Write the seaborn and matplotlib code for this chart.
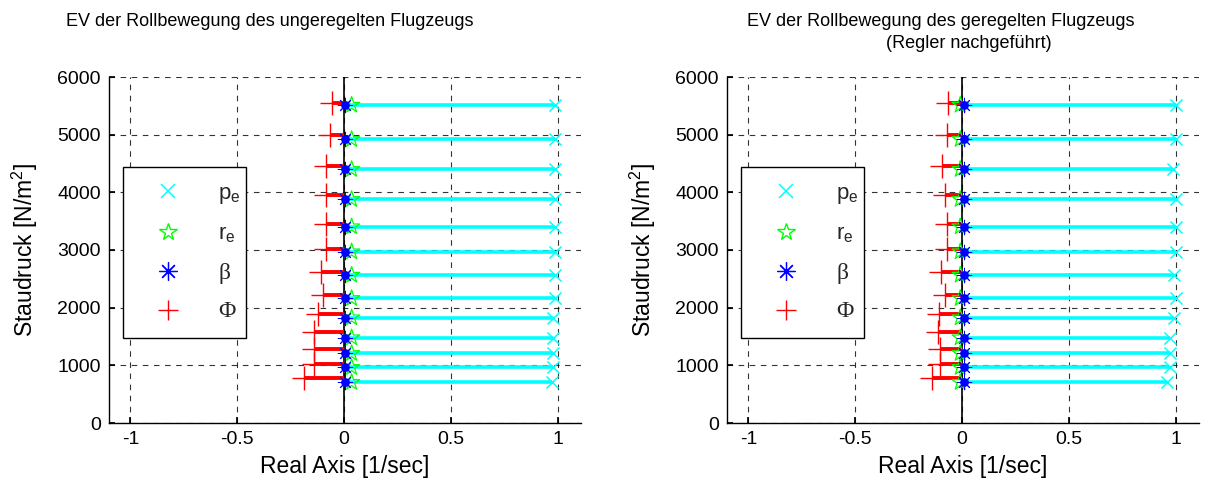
import numpy as np
import pandas as pd
import seaborn as sns
import matplotlib
matplotlib.use("Agg")
import matplotlib.pyplot as plt
from matplotlib.lines import Line2D

sns.set_theme(style="white")
plt.rcParams['font.family'] = ['Liberation Sans', 'DejaVu Sans']
plt.rcParams['mathtext.fontset'] = 'custom'
plt.rcParams['mathtext.rm'] = 'Liberation Sans'
plt.rcParams['mathtext.it'] = 'Liberation Sans:italic'
plt.rcParams['axes.unicode_minus'] = False

# ---- data ----
staudruck = [5514, 4919, 4399, 3879, 3405, 2971, 2566, 2162, 1827, 1480, 1208, 965, 706]
staudruck_phi = [5554, 4994, 4457, 3954, 3451, 3012, 2624, 2220, 1885, 1573, 1278, 1023, 786]

# uncontrolled aircraft
p_e_u = [0.99, 0.99, 0.99, 0.99, 0.99, 0.99, 0.99, 0.99, 0.98, 0.98, 0.98, 0.98, 0.975]
r_e_u = [0.036] * 13
beta_u = [0.005] * 13
phi_u = [-0.055, -0.066, -0.082, -0.082, -0.082, -0.082, -0.107, -0.097, -0.121, -0.140, -0.140, -0.140, -0.189]

# controlled aircraft
p_e_c = [1.0, 1.0, 0.99, 1.0, 1.0, 1.0, 0.995, 1.0, 0.995, 0.975, 0.975, 0.975, 0.96]
r_e_c = [-0.008] * 13
beta_c = [0.01] * 13
phi_c = [-0.064, -0.072, -0.091, -0.080, -0.072, -0.072, -0.096, -0.080, -0.107, -0.114, -0.103, -0.103, -0.138]

titles_left = ["EV der Rollbewegung des ungeregelten Flugzeugs"]
titles_right = ["EV der Rollbewegung des geregelten Flugzeugs", "(Regler nachgeführt)"]
xticks = [-1, -0.5, 0, 0.5, 1]
xticklabels = ["-1", "-0.5", "0", "0.5", "1"]
yticks = [0, 1000, 2000, 3000, 4000, 5000, 6000]
legend_labels = [r"$\mathregular{p_e}$", r"$\mathregular{r_e}$", "β", "Φ"]

FS = 14
FS_LABEL = 16.5
FS_TITLE = 13
W, H = 1212, 486
fig = plt.figure(figsize=(W / 100, H / 100), dpi=100)
ax1 = fig.add_axes([109 / W, 63 / H, 472 / W, 346 / H])
ax2 = fig.add_axes([727 / W, 63 / H, 472 / W, 346 / H])

CYAN = "#00ffff"
GREEN = "#00ff00"
BLUE = "#0000ff"
RED = "#ff0000"


def draw(ax, pe, re, beta, phi):
    q = np.array(staudruck)
    qp = np.array(staudruck_phi)
    ax.axvline(0, color="black", lw=1.2, zorder=2)
    ax.hlines(q, 0, pe, color=CYAN, lw=2.6, zorder=3)
    ax.hlines(qp, phi, 0, color=RED, lw=2.8, zorder=3)
    df_pe = pd.DataFrame({"x": pe, "y": q})
    df_re = pd.DataFrame({"x": re, "y": q})
    df_b = pd.DataFrame({"x": beta, "y": q})
    df_phi = pd.DataFrame({"x": phi, "y": qp})
    sns.scatterplot(data=df_pe, x="x", y="y", ax=ax, marker="x", s=75,
                    color=CYAN, linewidth=1.1, zorder=4)
    sns.scatterplot(data=df_phi, x="x", y="y", ax=ax, marker="+", s=300,
                    color=RED, linewidth=1.0, zorder=4)
    sns.scatterplot(data=df_re, x="x", y="y", ax=ax, marker="*", s=150,
                    facecolor="none", edgecolor=GREEN, linewidth=0.9, zorder=5)
    sns.scatterplot(data=df_b, x="x", y="y", ax=ax, marker="o", s=40,
                    color=BLUE, linewidth=0, zorder=6)
    sns.scatterplot(data=df_b, x="x", y="y", ax=ax, marker=(8, 2, 0), s=110,
                    color=BLUE, linewidth=0.7, zorder=6)
    ax.set_xlim(-1.1, 1.11)
    ax.set_ylim(0, 6000)
    ax.set_xticks(xticks)
    ax.set_xticklabels(xticklabels)
    ax.set_yticks(yticks)
    ax.grid(True, color="black", ls=(0, (5, 5)), lw=0.8, alpha=0.8)
    ax.set_axisbelow(True)
    for s in ["top", "right"]:
        ax.spines[s].set_visible(False)
    for s in ["left", "bottom"]:
        ax.spines[s].set_color("black")
        ax.spines[s].set_linewidth(1.0)
    ax.tick_params(direction="in", length=4, labelsize=FS, colors="black",
                   left=True, bottom=True, pad=6)
    ax.set_xlabel("Real Axis [1/sec]", fontsize=FS_LABEL, color="black", labelpad=5)
    ax.set_ylabel(r"Staudruck [N/m$^2$]", fontsize=FS_LABEL, color="black", labelpad=12)

    handles = [
        Line2D([], [], ls="none", marker="x", color=CYAN, markersize=10, mew=1.1),
        Line2D([], [], ls="none", marker="*", markerfacecolor="none",
               markeredgecolor=GREEN, markersize=13, mew=1.0),
        Line2D([], [], ls="none", marker=(8, 2, 0), color=BLUE, markersize=13, mew=0.9),
        Line2D([], [], ls="none", marker="+", color=RED, markersize=15, mew=1.0),
    ]
    leg = ax.legend(handles, legend_labels, loc="upper left",
                    bbox_to_anchor=(0.029, 0.74, 0.262, 0.0), mode="expand",
                    fontsize=FS + 2, frameon=True, fancybox=False, framealpha=1,
                    edgecolor="black", labelspacing=0.8, handlelength=2.7,
                    handletextpad=0.9, borderpad=0.7, borderaxespad=0)
    leg.get_frame().set_linewidth(1.0)
    for t in leg.get_texts()[2:]:
        t.set_fontfamily(["Liberation Serif", "DejaVu Serif"])
        t.set_fontsize(FS + 3)


draw(ax1, p_e_u, r_e_u, beta_u, phi_u)
draw(ax2, p_e_c, r_e_c, beta_c, phi_c)

fig.text(270 / W, 1 - 22 / H, titles_left[0], ha="center", va="center", fontsize=FS_TITLE, color="black")
fig.text(941 / W, 1 - 21 / H, titles_right[0], ha="center", va="center", fontsize=FS_TITLE, color="black")
fig.text(969 / W, 1 - 43 / H, titles_right[1], ha="center", va="center", fontsize=FS_TITLE, color="black")

fig.savefig("out.png", dpi=100, facecolor="white")
